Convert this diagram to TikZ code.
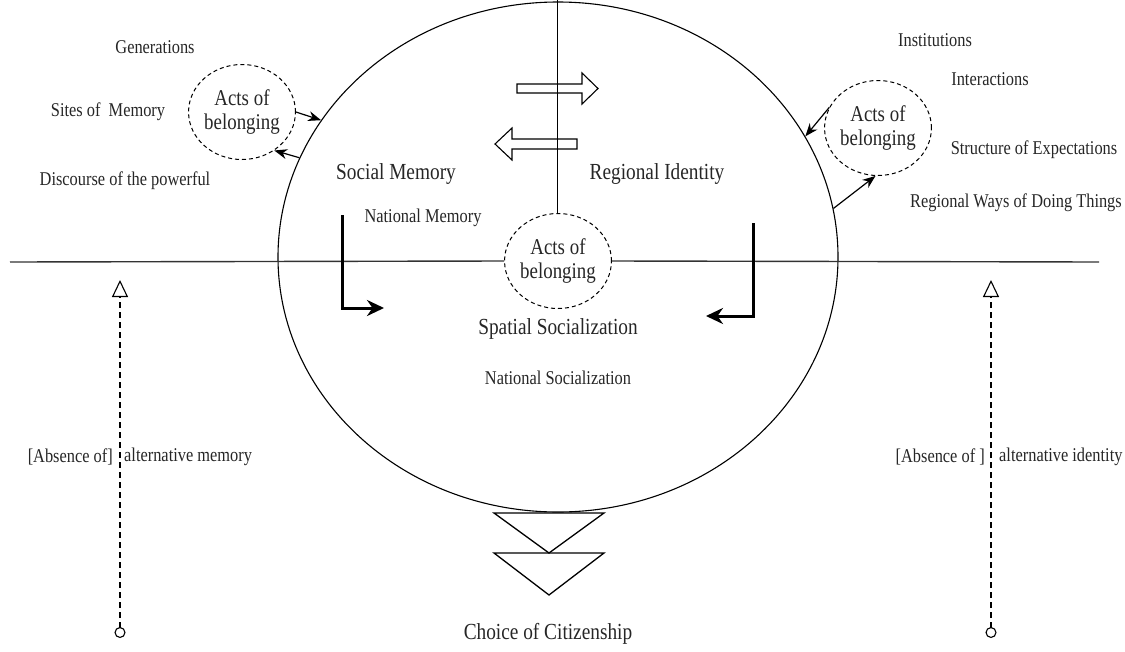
\documentclass[tikz,border=0pt]{standalone}
\usepackage{fontspec}
\setmainfont[FakeStretch=0.84]{Liberation Serif}
\usetikzlibrary{arrows.meta,shapes.geometric}
\begin{document}
\begin{tikzpicture}[x=1pt,y=-1pt,
  sm/.style={font=\fontsize{19.5}{22}\selectfont, inner sep=0pt, text=black!85},
  big/.style={font=\fontsize{23}{26}\selectfont, inner sep=0pt, text=black!85},
  acts/.style={ellipse, draw, dash pattern=on 4pt off 3pt, line width=1pt, minimum width=82pt, minimum height=95pt, inner sep=0pt, align=center, font=\fontsize{22.5}{24}\selectfont, text=black!85, fill=white},
  conn/.style={-{Stealth[length=13pt,width=10pt]}, line width=1.2pt},
  larrow/.style={-{Stealth[length=17pt,width=16pt]}, line width=3pt},
  dline/.style={dash pattern=on 6pt off 4pt, line width=1.1pt},
  hollow/.style={draw, line width=1.1pt}
]
\useasboundingbox (0,0) rectangle (1125,651);
% big ellipse
\node[ellipse, draw, line width=1.1pt, minimum width=560pt, minimum height=510pt, inner sep=0pt] (E) at (558,257) {};
% central acts
\node[acts] (cC) at (558,261) {Acts of\\belonging};
\node[acts] (cL) at (242,112) {Acts of\\belonging};
\node[acts] (cR) at (878,128) {Acts of\\belonging};
% axes
\coordinate (hl) at (10,262);
\coordinate (hr) at (1099,262);
\coordinate (vt) at (557,0);
\draw[line width=1.4pt, black!80] (hl) -- (cC.west);
\draw[line width=1.4pt, black!80] (cC.east) -- (hr);
\draw[line width=1pt] (vt) -- (cC.north -| vt);
% hollow arrows
\draw[hollow] (517,84) -- (582,84) -- (582,73) -- (598,88.5) -- (582,104) -- (582,93) -- (517,93) -- cycle;
\draw[hollow] (577,139) -- (512,139) -- (512,128) -- (495,144) -- (512,160) -- (512,149) -- (577,149) -- cycle;
% connectors
\draw[conn] (cL.east) -- (E.150.5);
\draw[conn] (E.159.8) -- (cL.-50);
\draw[conn] (cR.157) -- (E.26.8);
\draw[conn] (E.10.7) -- (cR.-93);
% L arrows
\coordinate (la1) at (342,215);
\coordinate (la2) at (342,308);
\coordinate (la3) at (384,308);
\draw[larrow] (la1) -- (la2) -- (la3);
\coordinate (ra1) at (753,223);
\coordinate (ra2) at (753,316);
\coordinate (ra3) at (706,316);
\draw[larrow] (ra1) -- (ra2) -- (ra3);
% triangles
\draw[line width=1.3pt] (494,513) -- (604,513) -- (549,553) -- cycle;
\draw[line width=1.3pt] (494,553) -- (604,553) -- (549,595) -- cycle;
% dashed lines
\coordinate (dl1) at (120,638);
\coordinate (dl2) at (120,280);
\coordinate (dr1) at (991,638);
\coordinate (dr2) at (991,280);
\draw[dline, {Circle[open,length=11pt,width=11pt,line width=1.1pt,sep=0pt]}-{Triangle[open,length=17pt,width=16pt,line width=1.1pt]}] (dl1) -- (dl2);
\draw[dline, {Circle[open,length=11pt,width=11pt,line width=1.1pt,sep=0pt]}-{Triangle[open,length=17pt,width=16pt,line width=1.1pt]}] (dr1) -- (dr2);
% texts
\node[sm] (gen) at (155,47) {Generations};
\node[sm] (sites) at (108,112) {Sites of\ \ Memory};
\node[sm] (disc) at (125,181) {Discourse of the powerful};
\node[big] (socm) at (396,174) {Social Memory};
\node[big] (regid) at (657,174) {Regional Identity};
\node[sm] (natm) at (423,218) {National Memory};
\node[sm] (inst) at (935,40) {Institutions};
\node[sm] (inter) at (990,79) {Interactions};
\node[sm] (struc) at (1034,150) {Structure of Expectations};
\node[sm] (ways) at (1016,203) {Regional Ways of Doing Things};
\node[big] (spat) at (558,329) {Spatial Socialization};
\node[sm] (nats) at (558,378) {National Socialization};
\node[big] (choice) at (548,634) {Choice of Citizenship};
\node[sm, anchor=east] (absL) at (113,457) {[Absence of]};
\node[sm, anchor=west] (altL) at (124,457) {alternative memory};
\node[sm, anchor=east] (absR) at (985,457) {[Absence of ]};
\node[sm, anchor=west] (altR) at (999,457) {alternative identity};
\end{tikzpicture}
\end{document}
